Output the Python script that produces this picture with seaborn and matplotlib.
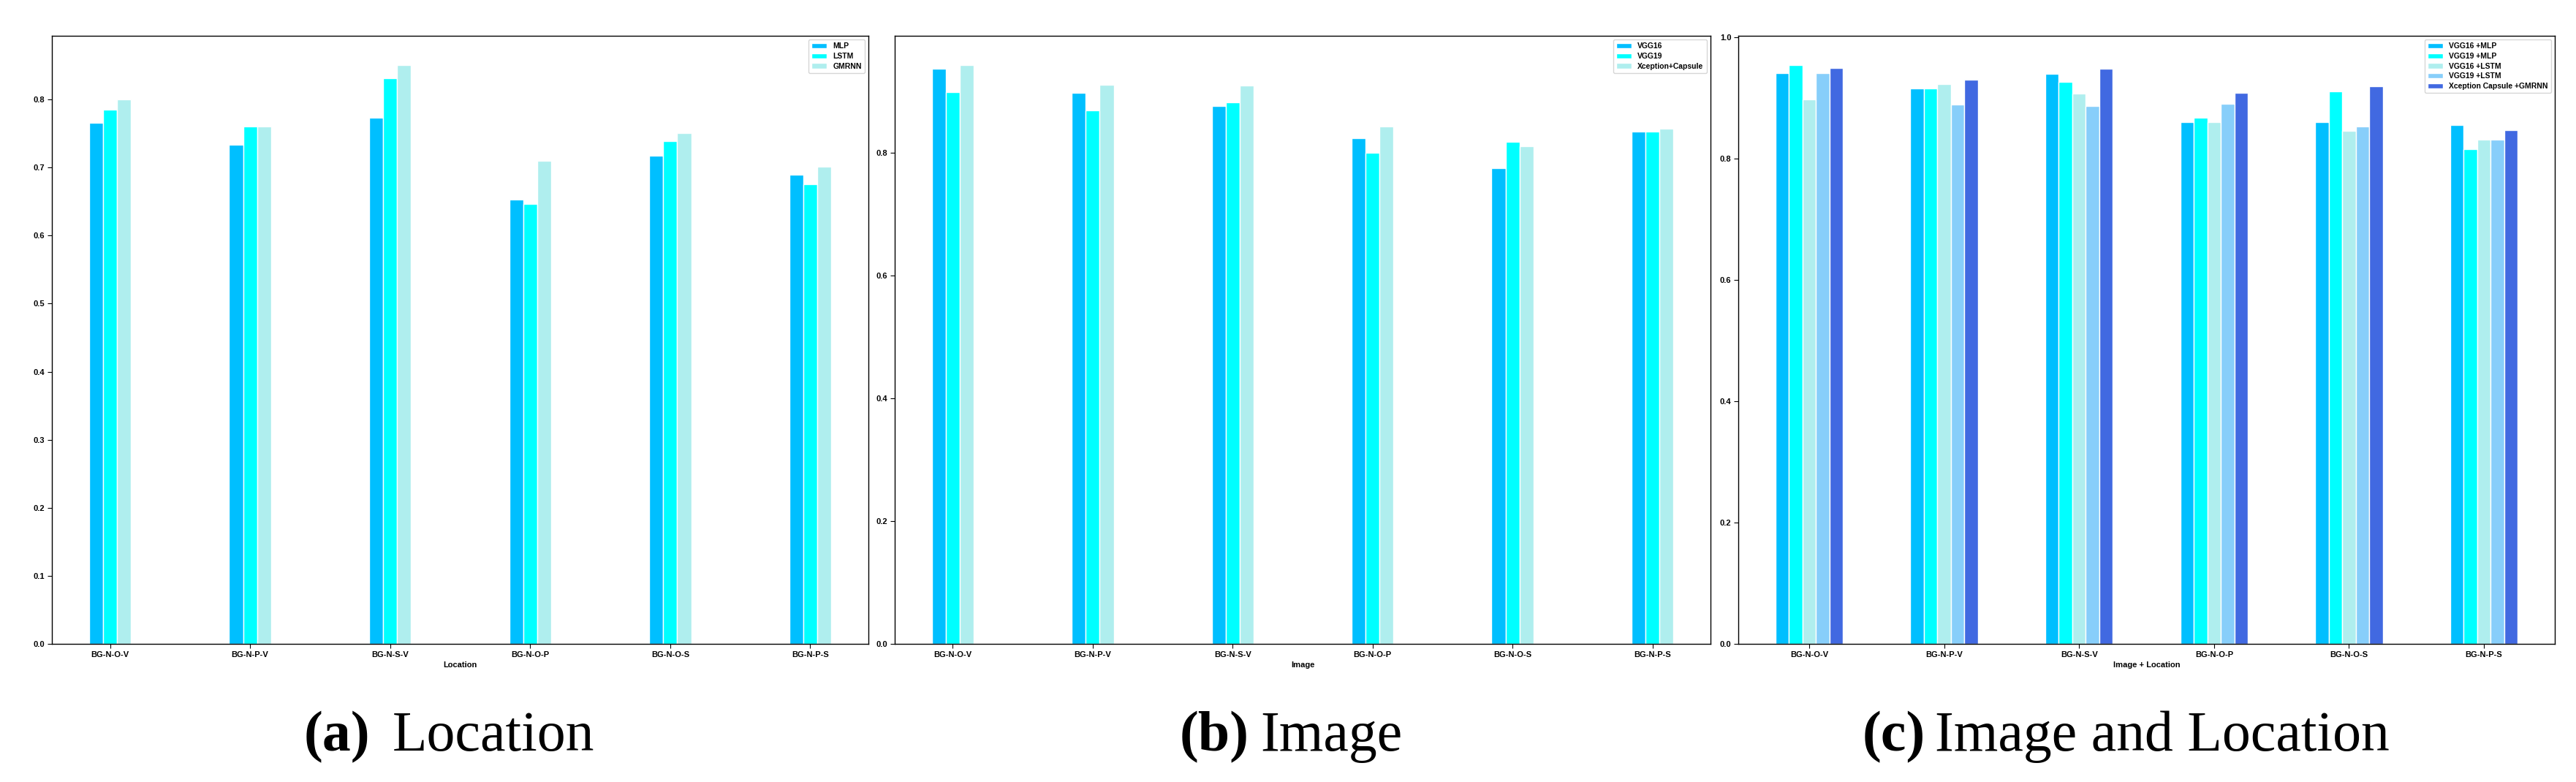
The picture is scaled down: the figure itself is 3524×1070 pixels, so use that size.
import matplotlib
matplotlib.use("Agg")
import matplotlib.pyplot as plt
from matplotlib.ticker import MultipleLocator, FormatStrFormatter
import seaborn as sns
import pandas as pd

# ---------------- data ----------------
categories = ["BG-N-O-V", "BG-N-P-V", "BG-N-S-V", "BG-N-O-P", "BG-N-O-S", "BG-N-P-S"]

loc_models = ["MLP", "LSTM", "GMRNN"]
loc_mlp   = [0.766, 0.733, 0.773, 0.653, 0.717, 0.690]
loc_lstm  = [0.785, 0.760, 0.831, 0.646, 0.739, 0.675]
loc_gmrnn = [0.800, 0.760, 0.851, 0.710, 0.751, 0.701]

img_models = ["VGG16", "VGG19", "Xception+Capsule"]
img_vgg16 = [0.937, 0.897, 0.876, 0.823, 0.775, 0.834]
img_vgg19 = [0.899, 0.869, 0.882, 0.800, 0.818, 0.834]
img_xcap  = [0.943, 0.911, 0.909, 0.842, 0.810, 0.839]

both_models = ["VGG16 +MLP", "VGG19 +MLP", "VGG16 +LSTM", "VGG19 +LSTM",
               "Xception Capsule +GMRNN"]
both_vgg16_mlp  = [0.941, 0.916, 0.940, 0.861, 0.861, 0.856]
both_vgg19_mlp  = [0.955, 0.916, 0.927, 0.868, 0.911, 0.816]
both_vgg16_lstm = [0.898, 0.923, 0.908, 0.861, 0.846, 0.832]
both_vgg19_lstm = [0.941, 0.890, 0.887, 0.891, 0.853, 0.832]
both_xcap_gmrnn = [0.950, 0.931, 0.949, 0.909, 0.920, 0.847]

x_labels = ["Location", "Image", "Image + Location"]
cap_tags = ["(a)", "(b)", "(c)"]
cap_words = ["Location", "Image", "Image and Location"]

colors5 = ["#00BFFF", "#00FFFF", "#AFEEEE", "#87CEFA", "#4169E1"]

# ---------------- style ----------------
sns.set_style("ticks", {"axes.edgecolor": "black"})
plt.rcParams["font.family"] = ["Liberation Sans", "DejaVu Sans"]
plt.rcParams["font.weight"] = "bold"
plt.rcParams["axes.labelweight"] = "bold"
plt.rcParams["axes.linewidth"] = 1.0
plt.rcParams["text.color"] = "black"
plt.rcParams["axes.labelcolor"] = "black"
plt.rcParams["xtick.color"] = "black"
plt.rcParams["ytick.color"] = "black"
plt.rcParams["xtick.major.pad"] = 2.5
plt.rcParams["ytick.major.pad"] = 2.5
plt.rcParams["xtick.major.size"] = 4.5
plt.rcParams["ytick.major.size"] = 4.5

W, H = 3524, 1070
fig = plt.figure(figsize=(W / 100, H / 100), dpi=100)

panels = [
    (loc_models, [loc_mlp, loc_lstm, loc_gmrnn], 71, 1188, 0.1),
    (img_models, [img_vgg16, img_vgg19, img_xcap], 1224, 2340, 0.2),
    (both_models, [both_vgg16_mlp, both_vgg19_mlp, both_vgg16_lstm,
                   both_vgg19_lstm, both_xcap_gmrnn], 2378, 3495, 0.2),
]
ax_top, ax_bot = 49, 881

cap_tag_x = [416, 1614, 2548]
cap_word_x = [537, 1724, 2647]
cap_base_y = 1027

for i, (models, series, xl, xr, ystep) in enumerate(panels):
    ax = fig.add_axes([xl / W, 1 - ax_bot / H, (xr - xl) / W, (ax_bot - ax_top) / H])
    rows = []
    for m, vals in zip(models, series):
        for c, v in zip(categories, vals):
            rows.append({"cat": c, "model": m, "value": v})
    df = pd.DataFrame(rows)
    n = len(models)
    sns.barplot(data=df, x="cat", y="value", hue="model", order=categories,
                hue_order=models, palette=colors5[:n], width=0.1 * n,
                saturation=1, edgecolor="white", linewidth=1.0, errorbar=None,
                ax=ax)
    half = 0.05 * n
    rng = 5 + 2 * half
    ax.set_xlim(-half - 0.05 * rng, 5 + half + 0.05 * rng)
    top = max(max(s) for s in series) * 1.05
    ax.set_ylim(0, top)
    ax.yaxis.set_major_locator(MultipleLocator(ystep))
    ax.yaxis.set_major_formatter(FormatStrFormatter("%.1f"))
    ax.set_xlabel(x_labels[i], fontsize=8, fontweight="bold", labelpad=3,
                  color="black")
    ax.set_ylabel("")
    ax.tick_params(labelsize=8, colors="black")
    for s in ax.spines.values():
        s.set_visible(True)
        s.set_color("black")
        s.set_linewidth(1.0)
    sns.move_legend(ax, "upper right", title=None,
                    prop={"family": "Liberation Sans", "weight": "bold", "size": 7.5},
                    labelspacing=0.35, frameon=True, labelcolor="black")

    fig.text(cap_tag_x[i] / W, 1 - cap_base_y / H, cap_tags[i],
             family=["Liberation Serif", "DejaVu Serif"], fontweight="bold",
             fontsize=56, ha="left", va="baseline", color="black")
    fig.text(cap_word_x[i] / W, 1 - cap_base_y / H, cap_words[i],
             family=["Liberation Serif", "DejaVu Serif"], fontweight="normal",
             fontsize=56, ha="left", va="baseline", color="black")

fig.savefig("out.png", dpi=100, facecolor="white")
